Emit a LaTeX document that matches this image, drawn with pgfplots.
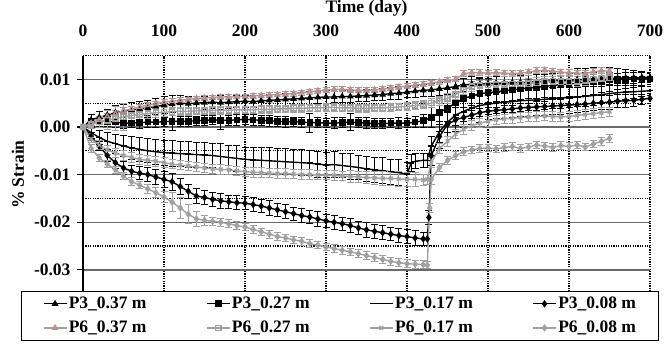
\documentclass[border=0pt]{standalone}
\usepackage{fontspec}
\setmainfont{Liberation Serif}
\usepackage{pgfplots}
\pgfplotsset{compat=1.18}
\definecolor{pgray}{RGB}{160,160,160}
\definecolor{pred}{RGB}{205,130,140}
\definecolor{ggray}{RGB}{105,105,105}
\newcommand{\bigf}{\fontsize{17.5}{19}\selectfont\bfseries}
\begin{document}
\begin{tikzpicture}
\useasboundingbox (0,0) rectangle (671pt,354pt);
\begin{axis}[
  at={(83pt,60.3pt)}, anchor=south west,
  scale only axis, width=567pt, height=238.2pt,
  xmin=0, xmax=700, ymin=-0.035, ymax=0.015,
  axis x line*=top, axis y line*=left,
  x axis line style={draw=none},
  y axis line style={black, line width=1.2pt},
  xtick={0,100,200,300,400,500,600,700},
  xticklabels={0,100,200,300,400,500,600,700},
  ytick={-0.03,-0.02,-0.01,0,0.01},
  yticklabels={-0.03,-0.02,-0.01,0.00,0.01},
  minor ytick={-0.035,-0.025,-0.015,-0.005,0.005,0.015},
  scaled y ticks=false,
  xtick style={draw=none},
  ytick style={black, line width=1.2pt},
  minor y tick style={draw=none},
  ytick align=outside, major tick length=6pt,
  xmajorgrids, ymajorgrids, yminorgrids,
  major x grid style={black, line width=1.2pt, dash pattern=on 1.2pt off 1.2pt},
  major y grid style={ggray, line width=1.4pt},
  minor y grid style={black, line width=1.2pt, dash pattern=on 1.2pt off 1.2pt},
  tick label style={font=\bigf},
  xticklabel style={anchor=base, yshift=19.5pt},
  yticklabel style={xshift=-3pt},
  xlabel={Time (day)},
  xlabel style={font=\bigf, at={(axis description cs:0.5,1)}, anchor=base, yshift=43pt},
  ylabel={\% Strain},
  ylabel style={font=\bigf, at={(axis description cs:-0.1146,0.5)}, anchor=center},
  legend columns=4,
  legend style={nodes={inner sep=1.5pt}, font=\bigf, at={(axis description cs:0.4536,0.0126)}, anchor=north,
    draw=black, line width=1pt, fill=white, inner xsep=21pt, inner ysep=4.5pt,
    row sep=8pt,
    /tikz/every even column/.append style={column sep=58pt}},
  legend cell align=left,
  legend image code/.code={\draw[mark repeat=2,mark phase=2] plot coordinates {(0pt,0pt) (11.5pt,0pt) (23pt,0pt)};},
  every axis plot/.append style={line width=1.4pt, mark size=2.6pt,
    error bars/y dir=both, error bars/y explicit,
    error bars/error bar style={line width=0.9pt},
    error bars/error mark options={rotate=90, mark size=3.5pt, line width=0.9pt}},
]
% P3_0.37
\addplot[black, mark=triangle*] table[x=d,y=s,y error=e] {
d s e
0 0 0.0003
10 0.0015 0.0012
20 0.002 0.0013
30 0.0025 0.0012
40 0.003 0.0015
50 0.0033 0.0014
60 0.0036 0.0015
70 0.0038 0.0016
80 0.004 0.0015
90 0.0043 0.0017
100 0.0046 0.0018
110 0.0048 0.0018
120 0.005 0.0017
130 0.0049 0.0016
140 0.005 0.0015
150 0.0051 0.0014
160 0.0052 0.0014
170 0.0051 0.0015
180 0.0052 0.0013
190 0.0053 0.0013
200 0.0054 0.0012
210 0.0053 0.0013
220 0.0055 0.0012
230 0.0056 0.0013
240 0.0057 0.0012
250 0.0058 0.0013
260 0.0059 0.0012
270 0.006 0.0013
280 0.0061 0.0014
290 0.0062 0.0013
300 0.0063 0.0014
310 0.0063 0.0012
320 0.0064 0.0013
330 0.0064 0.0012
340 0.0065 0.0012
350 0.0066 0.0013
360 0.0067 0.0012
370 0.0068 0.0013
380 0.007 0.0012
390 0.0071 0.0013
400 0.0073 0.0012
410 0.0075 0.0013
420 0.0077 0.0012
430 0.0078 0.0013
440 0.008 0.0014
450 0.0082 0.0015
460 0.0085 0.0015
470 0.0088 0.0014
480 0.009 0.0015
490 0.009 0.0014
500 0.0091 0.0015
510 0.0092 0.0014
520 0.0092 0.0015
530 0.0093 0.0014
540 0.0093 0.0015
550 0.0094 0.0014
560 0.0095 0.0015
570 0.0096 0.0014
580 0.0097 0.0015
590 0.0098 0.0014
600 0.0098 0.0015
610 0.0099 0.0014
620 0.01 0.0015
630 0.01 0.0014
640 0.0101 0.0012
650 0.0102 0.0012
660 0.0102 0.0011
670 0.0103 0.0011
680 0.0103 0.0011
690 0.0104 0.001
700 0.0104 0.001
};
\addlegendentry{P3\_0.37 m}
% P3_0.27
\addplot[black, mark=square*] table[x=d,y=s,y error=e] {
d s e
0 0 0.0003
10 0.001 0.0008
20 0.0012 0.001
30 0.0012 0.001
40 0.001 0.0012
50 0.0008 0.0011
60 0.0008 0.001
70 0.0009 0.0012
80 0.001 0.001
90 0.001 0.0011
100 0.0011 0.001
110 0.0012 0.002
120 0.0012 0.001
130 0.0012 0.0011
140 0.0013 0.001
150 0.0014 0.0011
160 0.0015 0.001
170 0.0014 0.002
180 0.0014 0.001
190 0.0015 0.0011
200 0.0016 0.001
210 0.0015 0.0011
220 0.0014 0.001
230 0.0013 0.0011
240 0.0012 0.001
250 0.0011 0.0011
260 0.0011 0.001
270 0.001 0.0011
280 0.0009 0.002
290 0.0009 0.0011
300 0.0008 0.001
310 0.0008 0.0011
320 0.0009 0.001
330 0.001 0.0018
340 0.0009 0.001
350 0.0008 0.0011
360 0.0007 0.001
370 0.0007 0.0011
380 0.0008 0.001
390 0.0008 0.0011
400 0.0008 0.001
410 0.001 0.0012
420 0.0013 0.0013
430 0.002 0.002
440 0.003 0.0025
450 0.004 0.0028
460 0.005 0.003
470 0.006 0.003
480 0.0065 0.003
490 0.007 0.0032
500 0.0072 0.003
510 0.0074 0.0032
520 0.0076 0.003
530 0.0078 0.0032
540 0.008 0.003
550 0.0082 0.0032
560 0.0083 0.003
570 0.0085 0.0032
580 0.0087 0.003
590 0.0089 0.0032
600 0.009 0.003
610 0.0092 0.003
620 0.0094 0.0028
630 0.0096 0.0028
640 0.0098 0.0026
650 0.0099 0.0025
660 0.01 0.0022
670 0.01 0.002
680 0.0101 0.0018
690 0.0101 0.0015
700 0.0101 0.0012
};
\addlegendentry{P3\_0.27 m}
% P3_0.17
\addplot[black, mark=-, mark size=3pt] table[x=d,y=s,y error=e] {
d s e
0 0 0.0003
10 -0.0012 0.0012
20 -0.0022 0.0015
30 -0.003 0.0018
40 -0.0035 0.002
50 -0.004 0.0022
60 -0.0044 0.0024
70 -0.0047 0.0025
80 -0.005 0.0025
90 -0.0052 0.0026
100 -0.0054 0.0026
110 -0.0055 0.0027
120 -0.0056 0.0026
130 -0.0057 0.0027
140 -0.0058 0.0026
150 -0.0059 0.0027
160 -0.006 0.0026
170 -0.0062 0.0027
180 -0.0064 0.0026
190 -0.0066 0.0027
200 -0.0068 0.0026
210 -0.0069 0.0027
220 -0.007 0.0026
230 -0.0071 0.0027
240 -0.0072 0.0026
250 -0.0073 0.0027
260 -0.0074 0.0026
270 -0.0075 0.0027
280 -0.0076 0.0026
290 -0.0078 0.0027
300 -0.008 0.0026
310 -0.0079 0.0027
320 -0.0081 0.0026
330 -0.0083 0.0027
340 -0.0085 0.0026
350 -0.0088 0.0027
360 -0.009 0.0026
370 -0.0092 0.0027
380 -0.0094 0.0026
390 -0.0096 0.0027
400 -0.0099 0.0025
405 -0.0076 0.0018
410 -0.0072 0.0016
420 -0.007 0.0015
425 -0.007 0.0015
430 -0.004 0.002
440 -0.001 0.0022
450 0.001 0.0022
460 0.0025 0.0022
470 0.0033 0.0022
480 0.004 0.0022
490 0.0045 0.0022
500 0.0048 0.0022
510 0.005 0.0022
520 0.0052 0.0022
530 0.0053 0.0022
540 0.0055 0.0022
550 0.0056 0.0022
560 0.0057 0.0022
570 0.0058 0.0022
580 0.006 0.0022
590 0.0061 0.0022
600 0.0062 0.0022
610 0.0063 0.002
620 0.0064 0.002
630 0.0066 0.002
640 0.0068 0.0018
650 0.007 0.0018
660 0.0072 0.0016
670 0.0073 0.0015
680 0.0074 0.0014
690 0.0075 0.0012
700 0.0076 0.001
};
\addlegendentry{P3\_0.17 m}
% P3_0.08
\addplot[black, mark=diamond*] table[x=d,y=s,y error=e] {
d s e
0 0 0.0003
10 -0.002 0.0008
20 -0.004 0.001
30 -0.006 0.0012
40 -0.0075 0.0012
50 -0.0086 0.0013
60 -0.0093 0.0013
70 -0.0097 0.0014
80 -0.01 0.0014
90 -0.0105 0.0015
100 -0.011 0.0016
110 -0.0115 0.0018
120 -0.0125 0.0016
130 -0.0135 0.0015
140 -0.0145 0.0015
150 -0.0148 0.0015
160 -0.0152 0.0014
170 -0.0155 0.0015
180 -0.0157 0.0014
190 -0.0159 0.0015
200 -0.016 0.0014
210 -0.0163 0.0015
220 -0.0166 0.0014
230 -0.017 0.0015
240 -0.0174 0.0014
250 -0.0178 0.0015
260 -0.0182 0.0014
270 -0.0186 0.0015
280 -0.0189 0.0014
290 -0.0193 0.0015
300 -0.0197 0.0014
310 -0.02 0.0015
320 -0.0203 0.0014
330 -0.0207 0.0015
340 -0.0212 0.0014
350 -0.0216 0.0015
360 -0.0219 0.0014
370 -0.0222 0.0015
380 -0.0225 0.0014
390 -0.0228 0.0015
400 -0.023 0.0014
410 -0.0233 0.0015
420 -0.0235 0.0014
425 -0.0235 0.0013
427 -0.019 0.0015
430 -0.006 0.002
440 -0.002 0.0025
450 0.0005 0.0025
460 0.0015 0.0025
470 0.002 0.0022
480 0.0025 0.002
490 0.003 0.002
500 0.0033 0.0018
510 0.0035 0.0018
520 0.0036 0.0018
530 0.0038 0.0018
540 0.004 0.0018
550 0.0041 0.0018
560 0.0042 0.0018
570 0.0043 0.0018
580 0.0044 0.0018
590 0.0045 0.0018
600 0.0046 0.0018
610 0.0047 0.0016
620 0.0048 0.0016
630 0.005 0.0016
640 0.0051 0.0015
650 0.0052 0.0015
660 0.0054 0.0014
670 0.0055 0.0013
680 0.0056 0.0012
690 0.0058 0.0011
700 0.006 0.001
};
\addlegendentry{P3\_0.08 m}
% P6_0.37
\addplot[pgray, mark=triangle, mark options={fill=pred!60, draw=pred!70!pgray}] table[x=d,y=s,y error=e] {
d s e
0 0 0.0003
10 0.0008 0.0005
20 0.0015 0.0006
30 0.0022 0.0006
40 0.0028 0.0006
50 0.0034 0.0006
60 0.0038 0.0006
70 0.0042 0.0005
80 0.0046 0.0005
90 0.0049 0.0005
100 0.0052 0.0005
110 0.0054 0.0005
120 0.0056 0.0005
130 0.0058 0.0005
140 0.006 0.0005
150 0.0061 0.0005
160 0.0062 0.0005
170 0.0063 0.0005
180 0.0063 0.0005
190 0.0064 0.0005
200 0.0064 0.0005
210 0.0065 0.0005
220 0.0066 0.0005
230 0.0067 0.0005
240 0.0068 0.0005
250 0.0069 0.0005
260 0.007 0.0005
270 0.0072 0.0005
280 0.0074 0.0005
290 0.0076 0.0005
300 0.0078 0.0005
310 0.0079 0.0005
320 0.0079 0.0005
330 0.0078 0.0005
340 0.0077 0.0005
350 0.0077 0.0005
360 0.0078 0.0005
370 0.008 0.0005
380 0.0082 0.0005
390 0.0084 0.0005
400 0.0086 0.0005
410 0.0088 0.0005
420 0.009 0.0005
430 0.0092 0.0005
440 0.0095 0.0005
450 0.0098 0.0005
460 0.01 0.0005
470 0.0112 0.0006
480 0.0114 0.0006
490 0.0114 0.0006
500 0.0113 0.0006
510 0.0114 0.0006
520 0.0113 0.0006
530 0.0112 0.0006
540 0.0113 0.0006
550 0.0115 0.0006
560 0.0118 0.0006
570 0.0119 0.0006
580 0.0117 0.0006
590 0.0115 0.0006
600 0.0114 0.0006
610 0.0113 0.0006
620 0.0112 0.0006
630 0.0116 0.0006
640 0.0118 0.0006
650 0.0117 0.0006
};
\addlegendentry{P6\_0.37 m}
% P6_0.27
\addplot[pgray, mark=square, mark options={fill=white}] table[x=d,y=s,y error=e] {
d s e
0 0 0.0003
10 0.0005 0.0008
20 0.001 0.0012
30 0.0014 0.002
40 0.0018 0.0025
50 0.0021 0.0028
60 0.0024 0.002
70 0.0026 0.0012
80 0.0028 0.001
90 0.003 0.0009
100 0.0031 0.0009
110 0.0032 0.0008
120 0.0033 0.0008
130 0.0033 0.0008
140 0.0034 0.0008
150 0.0034 0.0008
160 0.0035 0.0008
170 0.0035 0.0008
180 0.0035 0.0008
190 0.0036 0.0008
200 0.0036 0.0008
210 0.0036 0.0008
220 0.0037 0.0008
230 0.0037 0.0008
240 0.0038 0.0008
250 0.0038 0.0008
260 0.0039 0.0008
270 0.0039 0.0008
280 0.004 0.0008
290 0.004 0.0008
300 0.0041 0.0008
310 0.0041 0.0008
320 0.004 0.0008
330 0.004 0.0008
340 0.0039 0.0008
350 0.0039 0.0008
360 0.004 0.0008
370 0.004 0.0008
380 0.0041 0.0008
390 0.0042 0.0008
400 0.0043 0.0008
410 0.0045 0.0008
420 0.0047 0.0008
430 0.005 0.0009
440 0.0055 0.001
450 0.006 0.001
460 0.0068 0.001
470 0.0078 0.001
480 0.0085 0.001
490 0.0087 0.001
500 0.0088 0.001
510 0.0089 0.001
520 0.0089 0.001
530 0.009 0.001
540 0.009 0.001
550 0.0091 0.001
560 0.0093 0.001
570 0.0095 0.001
580 0.0096 0.001
590 0.0095 0.001
600 0.0095 0.001
610 0.0096 0.001
620 0.0098 0.001
630 0.01 0.001
640 0.0102 0.001
650 0.0103 0.001
};
\addlegendentry{P6\_0.27 m}
% P6_0.17
\addplot[pgray, mark=x] table[x=d,y=s,y error=e] {
d s e
0 0 0.0003
10 -0.0025 0.0008
20 -0.0038 0.0009
30 -0.0048 0.001
40 -0.0055 0.001
50 -0.006 0.001
60 -0.0064 0.001
70 -0.0068 0.001
80 -0.007 0.001
90 -0.0072 0.001
100 -0.0075 0.001
110 -0.0078 0.001
120 -0.008 0.001
130 -0.0082 0.001
140 -0.0084 0.001
150 -0.0086 0.001
160 -0.0088 0.001
170 -0.0089 0.001
180 -0.009 0.001
190 -0.0092 0.001
200 -0.0094 0.001
210 -0.0095 0.001
220 -0.0096 0.001
230 -0.0097 0.001
240 -0.0098 0.001
250 -0.0098 0.001
260 -0.0099 0.001
270 -0.01 0.001
280 -0.01 0.001
290 -0.0101 0.001
300 -0.0101 0.001
310 -0.0102 0.001
320 -0.0103 0.001
330 -0.0104 0.0012
340 -0.0105 0.0012
350 -0.0106 0.0013
360 -0.0107 0.0013
370 -0.0108 0.0014
380 -0.0108 0.0015
390 -0.0109 0.0015
400 -0.011 0.0015
410 -0.011 0.0015
420 -0.0111 0.0012
425 -0.011 0.001
430 -0.0075 0.001
440 -0.0045 0.001
450 -0.003 0.001
460 -0.0015 0.001
470 -0.0005 0.001
480 0.0003 0.001
490 0.0008 0.001
500 0.0012 0.001
510 0.0015 0.001
520 0.0017 0.001
530 0.0018 0.001
540 0.002 0.001
550 0.0021 0.001
560 0.0022 0.001
570 0.0023 0.001
580 0.0022 0.001
590 0.0021 0.001
600 0.0022 0.001
610 0.0024 0.001
620 0.0026 0.001
630 0.0028 0.001
640 0.003 0.001
650 0.0032 0.001
};
\addlegendentry{P6\_0.17 m}
% P6_0.08
\addplot[pgray, mark=diamond, mark options={fill=white}] table[x=d,y=s,y error=e] {
d s e
0 0 0.0003
10 -0.0045 0.0008
20 -0.0065 0.0008
30 -0.0078 0.0008
40 -0.009 0.0008
50 -0.0103 0.0008
60 -0.0115 0.0008
70 -0.0122 0.0008
80 -0.013 0.0009
90 -0.0138 0.001
100 -0.0147 0.0012
110 -0.0158 0.002
120 -0.017 0.0022
130 -0.0183 0.002
140 -0.0193 0.0015
150 -0.0196 0.001
160 -0.0198 0.0008
170 -0.02 0.0008
180 -0.0203 0.0008
190 -0.0207 0.0008
200 -0.021 0.0008
210 -0.0215 0.0008
220 -0.022 0.0008
230 -0.0225 0.0008
240 -0.023 0.0008
250 -0.0233 0.0008
260 -0.0237 0.0008
270 -0.024 0.0008
280 -0.0245 0.0008
290 -0.0248 0.0008
300 -0.0252 0.0008
310 -0.0255 0.0008
320 -0.0259 0.0008
330 -0.0262 0.0008
340 -0.0266 0.0008
350 -0.027 0.0008
360 -0.0274 0.0008
370 -0.0278 0.0008
380 -0.0282 0.0008
390 -0.0285 0.0008
400 -0.0287 0.0008
410 -0.0288 0.0008
420 -0.0289 0.0008
425 -0.029 0.0008
428 -0.017 0.001
430 -0.011 0.001
440 -0.0085 0.0008
450 -0.007 0.0008
460 -0.006 0.0008
470 -0.0052 0.0008
480 -0.0048 0.0008
490 -0.0045 0.0008
500 -0.0044 0.0008
510 -0.0046 0.0008
520 -0.0043 0.0008
530 -0.0041 0.0008
540 -0.0045 0.0008
550 -0.0042 0.0008
560 -0.0038 0.0008
570 -0.004 0.0008
580 -0.0043 0.0008
590 -0.0039 0.0008
600 -0.0041 0.0008
610 -0.0038 0.0008
620 -0.0042 0.0008
630 -0.0036 0.0008
640 -0.003 0.0008
650 -0.0024 0.0008
};
\addlegendentry{P6\_0.08 m}
\end{axis}
\end{tikzpicture}
\end{document}
